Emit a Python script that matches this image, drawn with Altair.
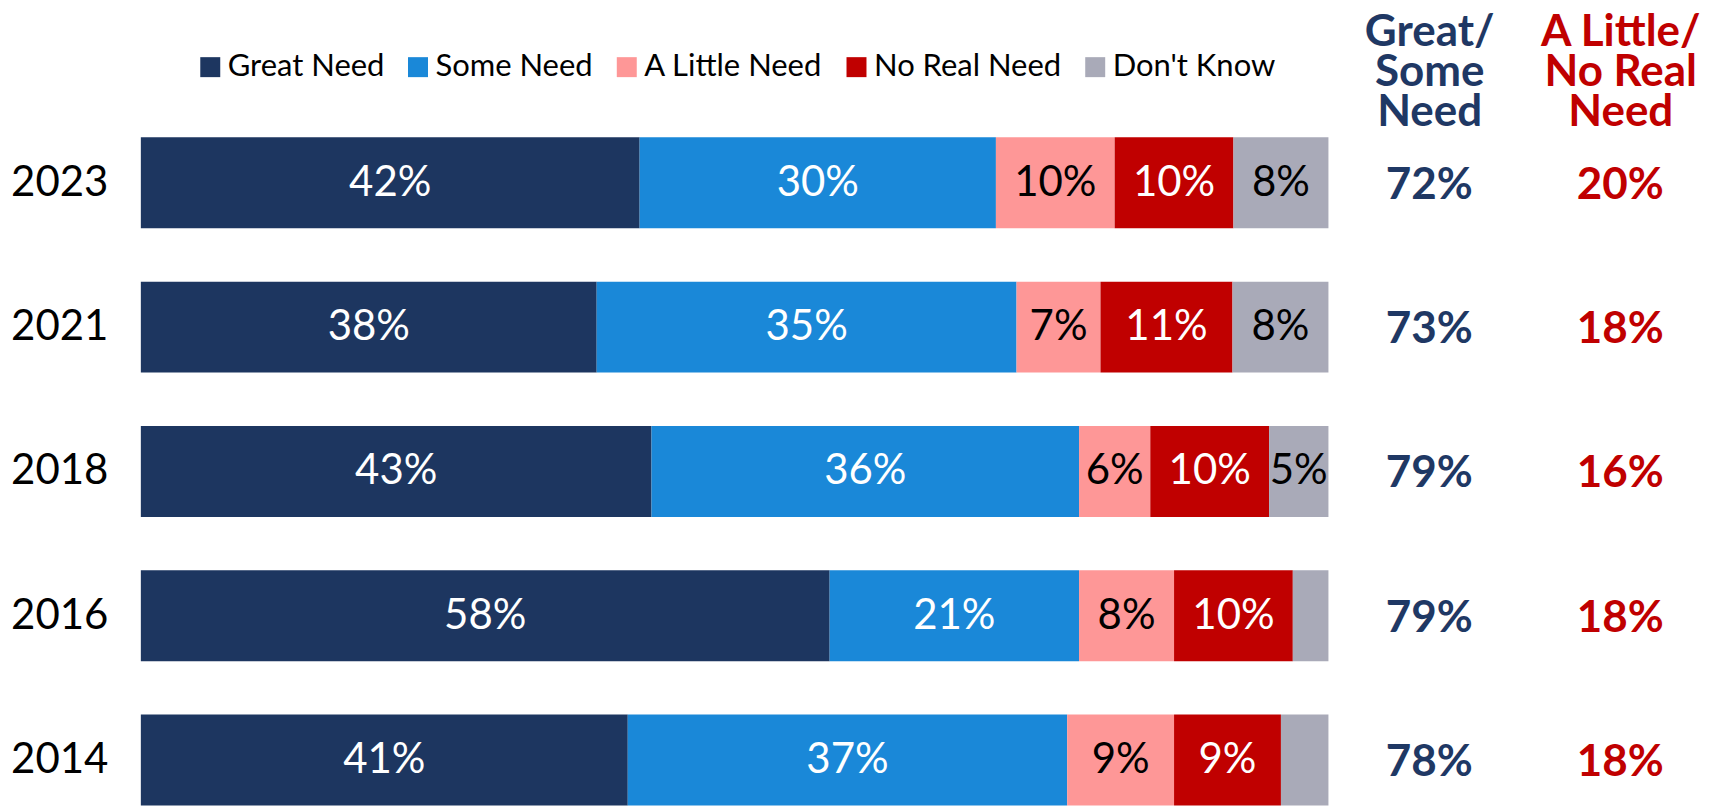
import altair as alt
import pandas as pd

years = ["2023", "2021", "2018", "2016", "2014"]
categories = ["Great Need", "Some Need", "A Little Need", "No Real Need", "Don't Know"]
great_need = [42, 38, 43, 58, 41]
some_need = [30, 35, 36, 21, 37]
little_need = [10, 7, 6, 8, 9]
no_real_need = [10, 11, 10, 10, 9]
dont_know = [8, 8, 5, 3, 4]
cat_colors = ["#1d3660", "#1a88d8", "#fe9797", "#c00000", "#a9aab8"]
dark_text_cats = ["A Little Need", "Don't Know"]

great_some = [72, 73, 79, 79, 78]
little_no = [20, 18, 16, 18, 18]
col_headers = ["Great/|Some|Need", "A Little/|No Real|Need"]
col_colors = ["#1f3864", "#c00000"]

FONT = "Lato"

series = [great_need, some_need, little_need, no_real_need, dont_know]
rows = []
for ci, (cat, vals) in enumerate(zip(categories, series)):
    for yi, yr in enumerate(years):
        rows.append({"year": yr, "category": cat, "order": ci, "value": vals[yi],
                     "tc": "black" if cat in dark_text_cats else "white"})
df = pd.DataFrame(rows)

rows2 = []
for hi, (h, vals) in enumerate(zip(col_headers, [great_some, little_no])):
    for yi, yr in enumerate(years):
        rows2.append({"year": yr, "col": h, "value": vals[yi], "tc": col_colors[hi]})
df2 = pd.DataFrame(rows2)

PLOT_H = 669
yscale = alt.Scale(type="band", paddingInner=0.37, paddingOuter=0)

base = alt.Chart(df).transform_stack(
    as_=["x0", "x1"], stack="value", groupby=["year"],
    offset="normalize", sort=[alt.SortField("order", "ascending")]
).transform_calculate(
    mid="(datum.x0 + datum.x1) / 2",
    txt="datum.value >= 5 ? datum.value + '%' : ''"
)

yenc = alt.Y("year:N", sort=years, scale=yscale,
             axis=alt.Axis(title=None, ticks=False, domain=False, tickSize=0,
                           labelFontSize=42, labelFont=FONT, labelColor="black",
                           labelPadding=33))

bars = base.mark_bar(strokeWidth=0).encode(
    x=alt.X("x0:Q", scale=alt.Scale(domain=[0, 1]), axis=None),
    x2="x1:Q",
    y=yenc,
    color=alt.Color("category:N", scale=alt.Scale(domain=categories, range=cat_colors),
                    legend=alt.Legend(title=None, orient="none", direction="horizontal",
                                      legendX=54, legendY=-86, symbolType="square",
                                      symbolSize=400, symbolStrokeWidth=0,
                                      labelFontSize=31, labelFont=FONT, labelColor="black",
                                      labelOffset=2, columnPadding=18, padding=0,
                                      labelLimit=0)),
)

labels = base.mark_text(fontSize=42, font=FONT, baseline="middle", align="center").encode(
    x=alt.X("mid:Q", scale=alt.Scale(domain=[0, 1]), axis=None),
    y=yenc,
    text="txt:N",
    color=alt.Color("tc:N", scale=None),
)

left = alt.layer(bars, labels).properties(width=1189, height=PLOT_H)

label_color_expr = "datum.value == '%s' ? '%s' : '%s'" % (col_headers[0], col_colors[0], col_colors[1])

right = alt.Chart(df2).transform_calculate(
    txt="datum.value + '%'"
).mark_text(fontSize=44, font=FONT, fontWeight="bold", baseline="middle", align="center",
            dy=3).encode(
    x=alt.X("col:N", sort=col_headers, scale=alt.Scale(type="point", padding=0.25),
            axis=alt.Axis(orient="top", title=None, domain=False, ticks=False, tickSize=0,
                          labelExpr="split(datum.label, '|')", labelFontSize=44,
                          labelFontWeight="bold", labelFont=FONT, labelLineHeight=40,
                          labelBaseline="alphabetic",
                          labelPadding=92, labelLimit=0, labelAngle=0,
                          labelColor={"expr": label_color_expr})),
    y=alt.Y("year:N", sort=years, scale=yscale, axis=None),
    text="txt:N",
    color=alt.Color("tc:N", scale=None),
).properties(width=287, height=PLOT_H)

chart = alt.hconcat(left, right, spacing=53, bounds="flush").properties(
    padding={"left": 2, "top": 2, "right": 0, "bottom": 0}
).configure_view(stroke=None)

chart.save("out.html", embed_options={"renderer": "svg", "actions": False})
